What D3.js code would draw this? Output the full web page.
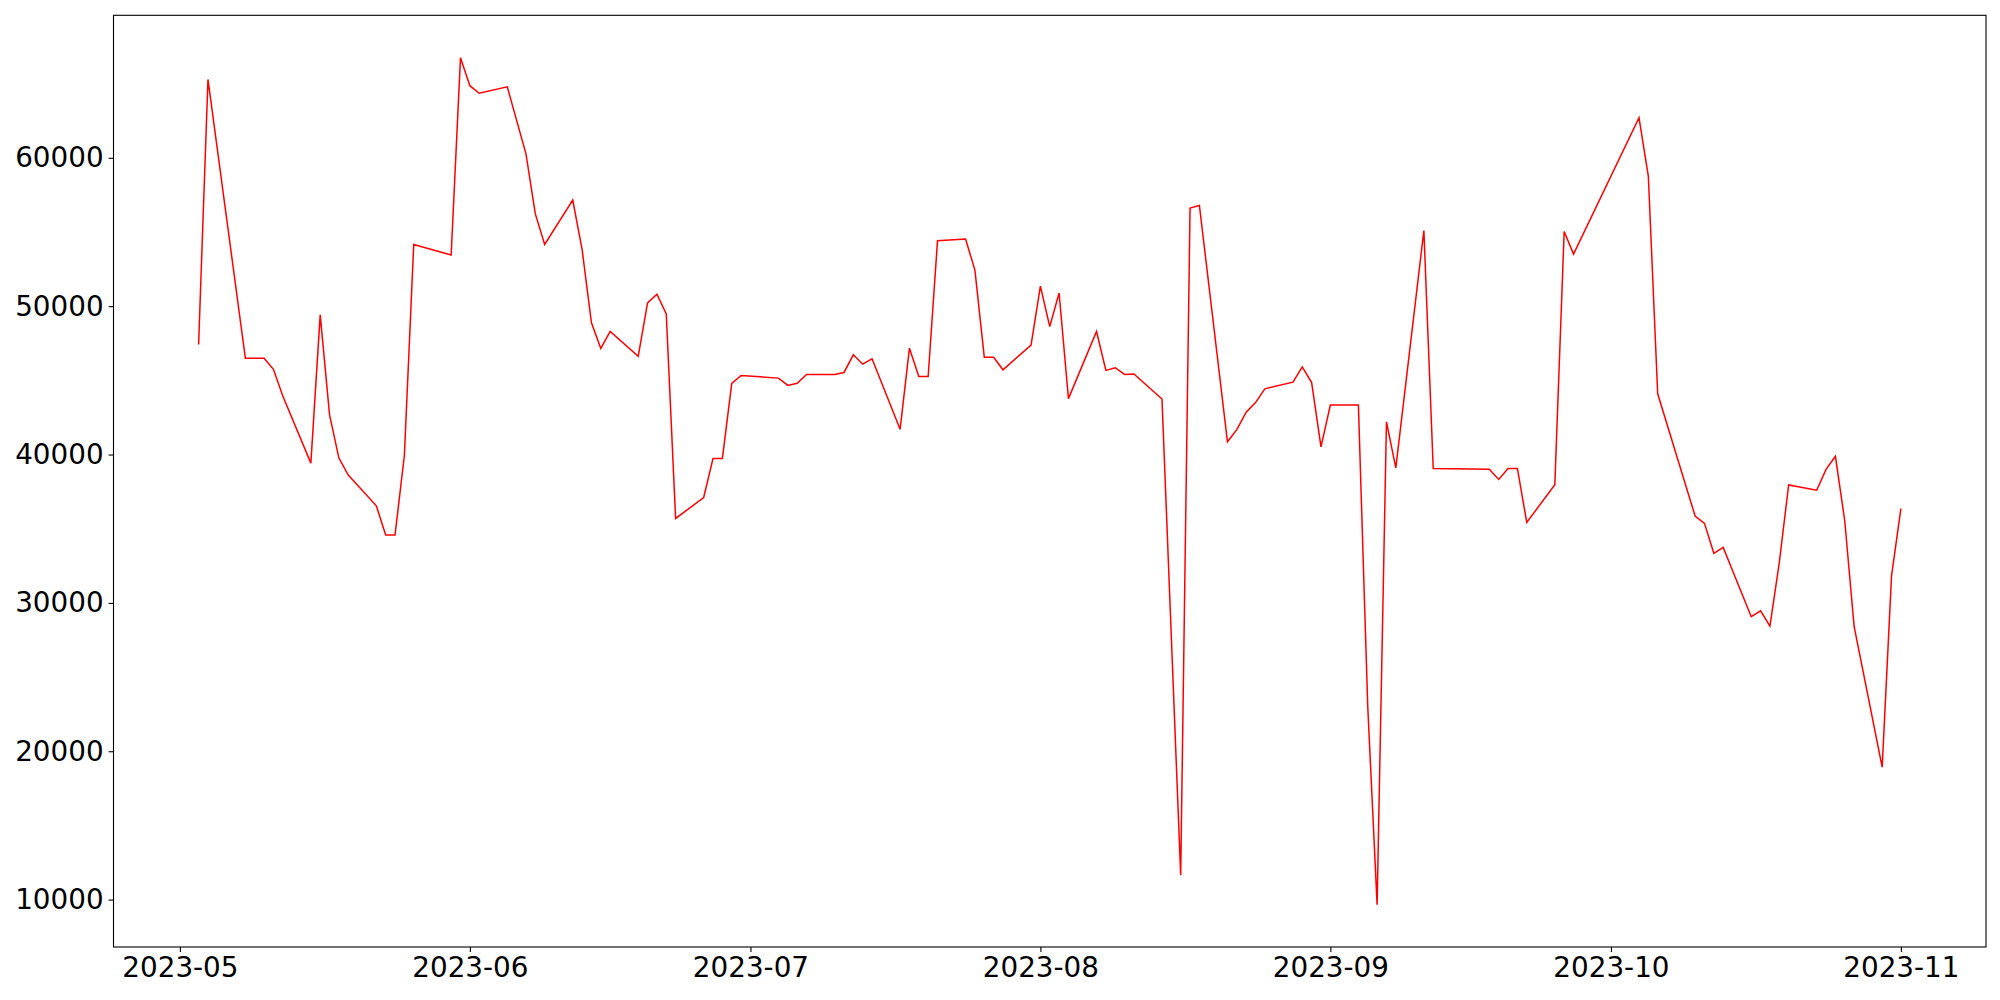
<!DOCTYPE html>
<html lang="en">
<head>
<meta charset="utf-8">
<title>Daily series</title>
<script src="https://cdn.jsdelivr.net/npm/d3@7"></script>
<style>
  body { margin: 0; background: #fff; }
  .axis text { font-family: "DejaVu Sans", sans-serif; font-size: 27.8px; fill: #000; }
  .axis line { stroke: #000; stroke-width: 1.1px; }
</style>
</head>
<body>
<div id="chart"></div>
<script>
// values
var dates = [
  "2023-05-03","2023-05-04","2023-05-08","2023-05-10","2023-05-11","2023-05-12","2023-05-15","2023-05-16",
  "2023-05-17","2023-05-18","2023-05-19","2023-05-22","2023-05-23","2023-05-24","2023-05-25","2023-05-26",
  "2023-05-30","2023-05-31","2023-06-01","2023-06-02","2023-06-05","2023-06-07","2023-06-08","2023-06-09",
  "2023-06-12","2023-06-13","2023-06-14","2023-06-15","2023-06-16","2023-06-19","2023-06-20","2023-06-21",
  "2023-06-22","2023-06-23","2023-06-26","2023-06-27","2023-06-28","2023-06-29","2023-06-30","2023-07-04",
  "2023-07-05","2023-07-06","2023-07-07","2023-07-10","2023-07-11","2023-07-12","2023-07-13","2023-07-14",
  "2023-07-17","2023-07-18","2023-07-19","2023-07-20","2023-07-21","2023-07-24","2023-07-25","2023-07-26",
  "2023-07-27","2023-07-28","2023-07-31","2023-08-01","2023-08-02","2023-08-03","2023-08-04","2023-08-07",
  "2023-08-08","2023-08-09","2023-08-10","2023-08-11","2023-08-14","2023-08-16","2023-08-17","2023-08-18",
  "2023-08-21","2023-08-22","2023-08-23","2023-08-24","2023-08-25","2023-08-28","2023-08-29","2023-08-30",
  "2023-08-31","2023-09-01","2023-09-04","2023-09-05","2023-09-06","2023-09-07","2023-09-08","2023-09-11",
  "2023-09-12","2023-09-18","2023-09-19","2023-09-20","2023-09-21","2023-09-22","2023-09-25","2023-09-26",
  "2023-09-27","2023-10-04","2023-10-05","2023-10-06","2023-10-10","2023-10-11","2023-10-12","2023-10-13",
  "2023-10-16","2023-10-17","2023-10-18","2023-10-19","2023-10-20","2023-10-23","2023-10-24","2023-10-25",
  "2023-10-26","2023-10-27","2023-10-30","2023-10-31","2023-11-01"
];
var values = [
  47420, 65280, 46490, 46490, 45740, 43950, 39420, 49410,
  42670, 39760, 38620, 36540, 34570, 34570, 39950, 54160,
  53450, 66750, 64860, 64350, 64780, 60270, 56220, 54160,
  57150, 53820, 48880, 47150, 48300, 46620, 50220, 50800,
  49480, 35690, 37100, 39740, 39740, 44800, 45330, 45150,
  44660, 44800, 45390, 45390, 45530, 46720, 46090, 46450,
  41700, 47170, 45260, 45260, 54410, 54520, 52430, 46560,
  46560, 45710, 47380, 51350, 48620, 50890, 43770, 48290,
  45670, 45850, 45400, 45430, 43740, 11650, 56610, 56790,
  40860, 41680, 42850, 43500, 44430, 44880, 45910, 44850,
  40510, 43330, 43330, 23000, 9660, 42200, 39100, 55100,
  39060, 39000, 38320, 39060, 39060, 35420, 37960, 55030,
  53510, 62700, 58750, 44090, 35850, 35360, 33340, 33740,
  29070, 29460, 28440, 32720, 37950, 37590, 39000, 39880,
  35520, 28410, 18930, 31820, 36360
];
var yTicks = [10000, 20000, 30000, 40000, 50000, 60000];

var parseDate = d3.utcParse("%Y-%m-%d");
var data = dates.map(function(d, i) { return { date: parseDate(d), value: values[i] }; });

var w = 2000, h = 1000;
var margin = { top: 15.3, right: 14, bottom: 53, left: 113.5 };

var svg = d3.select("#chart").append("svg")
    .attr("width", w)
    .attr("height", h);

// matplotlib style 5% padding around the data
var xExt = d3.extent(data, function(d) { return +d.date; });
var xPad = (xExt[1] - xExt[0]) * 0.05;
var yExt = d3.extent(data, function(d) { return d.value; });
var yPad = (yExt[1] - yExt[0]) * 0.05;

var xScale = d3.scaleUtc()
    .domain([new Date(xExt[0] - xPad), new Date(xExt[1] + xPad)])
    .range([margin.left, w - margin.right]);

var yScale = d3.scaleLinear()
    .domain([yExt[0] - yPad, yExt[1] + yPad])
    .range([h - margin.bottom, margin.top]);

var xAxis = d3.axisBottom(xScale)
    .ticks(d3.utcMonth.every(1))
    .tickFormat(d3.utcFormat("%Y-%m"))
    .tickSize(4.9)
    .tickPadding(5);

var yAxis = d3.axisLeft(yScale)
    .tickValues(yTicks)
    .tickFormat(d3.format("d"))
    .tickSize(4.9)
    .tickPadding(5);

svg.append("g")
    .attr("class", "axis")
    .attr("transform", "translate(0," + (h - margin.bottom) + ")")
    .call(xAxis)
    .call(function(g) { g.select(".domain").remove(); });

svg.append("g")
    .attr("class", "axis")
    .attr("transform", "translate(" + margin.left + ",0)")
    .call(yAxis)
    .call(function(g) { g.select(".domain").remove(); });

var line = d3.line()
    .x(function(d) { return xScale(d.date); })
    .y(function(d) { return yScale(d.value); });

svg.append("path")
    .datum(data)
    .attr("d", line)
    .attr("fill", "none")
    .attr("stroke", "red")
    .attr("stroke-width", 1.5)
    .attr("stroke-linejoin", "miter");

// axes frame
svg.append("rect")
    .attr("x", margin.left)
    .attr("y", margin.top)
    .attr("width", w - margin.left - margin.right)
    .attr("height", h - margin.top - margin.bottom)
    .attr("fill", "none")
    .attr("stroke", "#000")
    .attr("stroke-width", 1.1);
</script>
</body>
</html>
